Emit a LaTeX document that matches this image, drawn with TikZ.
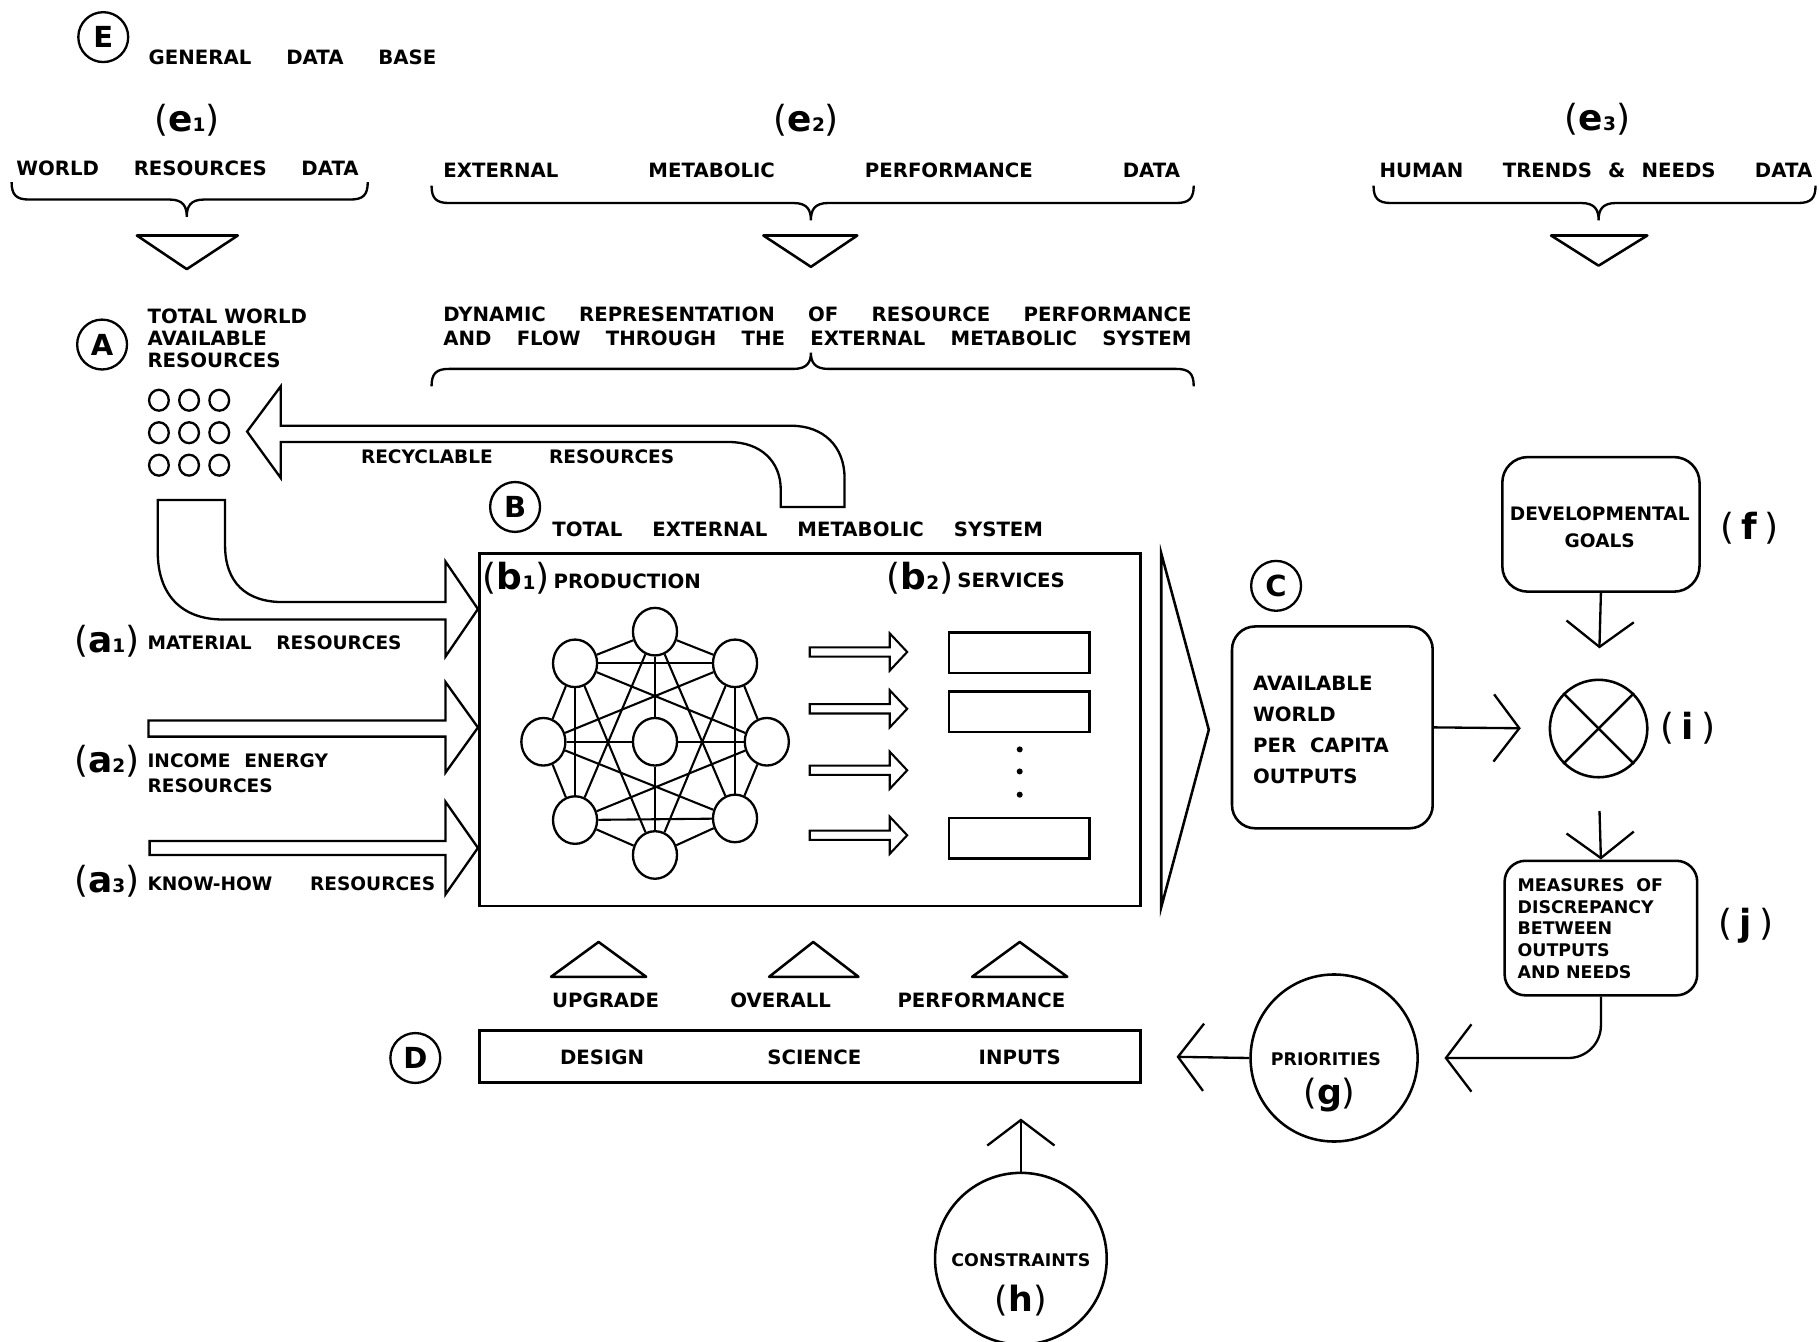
\documentclass[tikz,border=0pt]{standalone}
\usepackage{fontspec}
\setmainfont{DejaVu Sans}
\usetikzlibrary{arrows.meta,shapes.geometric}
\tikzset{
  lw/.style={line width=2.2pt},
  lbl/.style={inner sep=0pt, font=\bfseries\fontsize{17}{20}\selectfont},
  lbls/.style={inner sep=0pt, font=\bfseries\fontsize{16}{19}\selectfont},
  circlab/.style={circle, draw, line width=2pt, minimum size=43pt, inner sep=0pt, font=\bfseries\fontsize{25}{25}\selectfont},
  netnode/.style={ellipse, draw, line width=2pt, minimum width=38pt, minimum height=41pt, inner sep=0pt},
  netline/.style={line width=1.8pt},
  hollow/.style={line width=2pt, line join=miter},
  bracepath/.style={line width=2pt},
  conn/.style={line width=2pt, -{Straight Barb[length=22pt,width=58pt]}},
  rbox/.style={draw, line width=2.2pt, rounded corners=20pt, inner sep=0pt},
  plab/.style={inner sep=0pt},
}
\newcommand{\labsub}[2]{{\fontsize{31}{31}\selectfont(\textbf{#1}{\fontsize{16}{16}\selectfont\bfseries #2})}}
\newcommand{\labone}[1]{{\fontsize{31}{31}\selectfont(\hspace{6pt}\textbf{#1}\hspace{6pt})}}
\newcommand{\labcirc}[1]{{\fontsize{30}{30}\selectfont(\textbf{#1})}}
\begin{document}
\begin{tikzpicture}[x=1pt,y=-1pt]
\useasboundingbox (0,0) rectangle (1568,1156);
\fill[white] (0,0) rectangle (1568,1156);

% ---------- E : general data base ----------
\node[circlab] (E) at (89,32) {E};
\node[lbl, anchor=west] (gdb) at (128,49) {\makebox[248pt][s]{GENERAL\hfill DATA\hfill BASE}};

\node[plab] (e1) at (161,104) {\labsub{e}{1}};
\node[plab] (e2) at (695,104) {\labsub{e}{2}};
\node[plab] (e3) at (1377,103) {\labsub{e}{3}};

\node[lbl, anchor=west] (wrd) at (14,145) {\makebox[295pt][s]{WORLD\hfill RESOURCES\hfill DATA}};
\node[lbl, anchor=west] (empd) at (382,147) {\makebox[635pt][s]{EXTERNAL\hfill METABOLIC\hfill PERFORMANCE\hfill DATA}};
\node[lbl, anchor=west] (htnd) at (1189,147) {\makebox[373pt][s]{HUMAN\hfill TRENDS\hspace{14pt}\&\hspace{14pt}NEEDS\hfill DATA}};

% braces
\draw[bracepath] (10,157) .. controls (10,168) and (14,172) .. (25,172) -- (146,172) .. controls (158,172) and (161,178) .. (161,187) .. controls (161,178) and (164,172) .. (176,172) -- (302,172) .. controls (313,172) and (317,168) .. (317,157);
\draw[bracepath] (372,160) .. controls (372,171) and (376,175) .. (387,175) -- (684,175) .. controls (696,175) and (699,181) .. (699,190) .. controls (699,181) and (702,175) .. (714,175) -- (1014,175) .. controls (1025,175) and (1029,171) .. (1029,160);
\draw[bracepath] (1184,160) .. controls (1184,171) and (1188,175) .. (1199,175) -- (1363,175) .. controls (1375,175) and (1378,181) .. (1378,190) .. controls (1378,181) and (1381,175) .. (1393,175) -- (1550,175) .. controls (1561,175) and (1565,171) .. (1565,160);
\draw[bracepath] (372,333) .. controls (372,322) and (376,318) .. (387,318) -- (684,318) .. controls (696,318) and (699,312) .. (699,304) .. controls (699,312) and (702,318) .. (714,318) -- (1014,318) .. controls (1025,318) and (1029,322) .. (1029,333);

% down triangles
\draw[lw, line join=round] (118,203) -- (205,203) -- (161,232) -- cycle;
\draw[lw, line join=round] (658,203) -- (739,203) -- (699,230) -- cycle;
\draw[lw, line join=round] (1337,203) -- (1420,203) -- (1378,229) -- cycle;

% ---------- A ----------
\node[circlab] (A) at (88,297) {A};
\node[lbl, anchor=west, align=left, font=\bfseries\fontsize{17}{19}\selectfont] (twar) at (127,292) {TOTAL WORLD\\AVAILABLE\\RESOURCES};
\node[lbl, anchor=west, align=left, font=\bfseries\fontsize{17}{21}\selectfont] (dyn) at (382,281.5) {\makebox[645pt][s]{DYNAMIC\hfill REPRESENTATION\hfill OF\hfill RESOURCE\hfill PERFORMANCE}\\\makebox[645pt][s]{AND\hfill FLOW\hfill THROUGH\hfill THE\hfill EXTERNAL\hfill METABOLIC\hfill SYSTEM}};

\foreach \cx in {137,163,189} \foreach \cy in {345,373,401}
  \draw[line width=2pt] (\cx,\cy) ellipse [x radius=8.5pt, y radius=9pt];

% recyclable resources arrow
\draw[hollow] (242,333) -- (213,372) -- (242,412) -- (242,381) -- (628,381) .. controls (656,381) and (673,398) .. (673,422) -- (673,437) -- (728,437) -- (728,412) .. controls (728,385) and (710,367) .. (682,367) -- (242,367) -- cycle;
\node[lbls, anchor=west] (recy) at (311,394) {\makebox[270pt][s]{RECYCLABLE\hfill RESOURCES}};

% ---------- B ----------
\node[circlab] (B) at (444,437) {B};
\node[lbl, anchor=west] (tems) at (476,456) {\makebox[423pt][s]{TOTAL\hfill EXTERNAL\hfill METABOLIC\hfill SYSTEM}};

% input arrows
\draw[hollow] (136,431) -- (194,431) -- (194,470) .. controls (194,502) and (212,519) .. (244,519) -- (384,519) -- (384,484) -- (412,525) -- (384,566) -- (384,534) -- (192,534) .. controls (156,534) and (136,512) .. (136,476) -- cycle;
\draw[hollow] (128,621) -- (384,621) -- (384,588) -- (412,627) -- (384,666) -- (384,635) -- (128,635) -- cycle;
\draw[hollow] (129,725) -- (384,725) -- (384,691) -- (412,731) -- (384,771) -- (384,737) -- (129,737) -- cycle;

\node[plab] (a1) at (92,553) {\labsub{a}{1}};
\node[lbls, anchor=west] (matr) at (127,554) {\makebox[219pt][s]{MATERIAL\hfill RESOURCES}};
\node[plab] (a2) at (92,656) {\labsub{a}{2}};
\node[lbls, anchor=west, align=left, font=\bfseries\fontsize{16}{21}\selectfont] (iner) at (127,666.5) {INCOME\hspace{12pt}ENERGY\\RESOURCES};
\node[plab] (a3) at (92,760) {\labsub{a}{3}};
\node[lbls, anchor=west] (khr) at (127,762) {\makebox[248pt][s]{KNOW-HOW\hfill RESOURCES}};

% main box
\node[draw, line width=2.4pt, minimum width=570pt, minimum height=304pt, inner sep=0pt] (Bbox) at (698,629) {};
\draw[lw, line join=miter] (1001,477) -- (1042,629) -- (1001,782) -- cycle;

\node[plab] (b1) at (445,498) {\labsub{b}{1}};
\node[lbl, anchor=west] (prod) at (477,501) {PRODUCTION};
\node[plab] (b2) at (793,498) {\labsub{b}{2}};
\node[lbl, anchor=west] (serv) at (825,500) {SERVICES};

% network
\node[netnode] (nT) at (564.6,544.5) {};
\node[netnode] (nUL) at (495.7,571.8) {};
\node[netnode] (nUR) at (633.6,571.8) {};
\node[netnode] (nL) at (468.4,639.4) {};
\node[netnode] (nC) at (564.6,639.4) {};
\node[netnode] (nR) at (661,639.4) {};
\node[netnode] (nLL) at (495.7,706.9) {};
\node[netnode] (nLR) at (633.6,705.5) {};
\node[netnode] (nB) at (564.6,737) {};
\foreach \p/\q in {nT/nUL,nUL/nL,nL/nLL,nLL/nB,nB/nLR,nLR/nR,nR/nUR,nUR/nT,
  nUL/nUR,nLL/nLR,nUL/nLL,nUR/nLR,nL/nC,nC/nR,nT/nC,nC/nB,nT/nLL,nT/nLR,
  nB/nUL,nB/nUR,nL/nUR,nL/nLR,nR/nUL,nR/nLL}
  \draw[netline] (\p) -- (\q);

% services
\foreach \yc in {562,611,664,720}
  \draw[line width=1.8pt, line join=miter] (698,\yc-4) -- (767,\yc-4) -- (767,\yc-16) -- (782,\yc) -- (767,\yc+16) -- (767,\yc+4) -- (698,\yc+4) -- cycle;
\draw[lw] (818,545) rectangle (939,580);
\draw[lw] (818,596) rectangle (939,631);
\draw[lw] (818,705) rectangle (939,740);
\fill (879,646) circle (2.6pt);
\fill (879,665) circle (2.6pt);
\fill (879,685) circle (2.6pt);

% ---------- C ----------
\node[circlab] (Cl) at (1100,505) {C};
\node[rbox, minimum width=173pt, minimum height=174pt] (Cbox) at (1148.5,627) {};
\node[lbl, anchor=west, align=left, font=\bfseries\fontsize{17}{26.7}\selectfont] (ctext) at (1080,629) {AVAILABLE\\WORLD\\PER\hspace{12pt}CAPITA\\OUTPUTS};

% i comparator
\node[circle, draw, lw, minimum size=84pt, inner sep=0pt] (i) at (1378,628) {};
\draw[lw] (i.north west) -- (i.south east);
\draw[lw] (i.north east) -- (i.south west);
\node[plab] (il) at (1455,628) {\labone{i}};

% f
\node[rbox, rounded corners=22pt, minimum width=170pt, minimum height=116pt] (fbox) at (1380,452) {};
\node[lbl, align=center, font=\bfseries\fontsize{16}{23}\selectfont] (ftext) at (1379,454.5) {DEVELOPMENTAL\\GOALS};
\node[plab] (fl) at (1508,455) {\labone{f}};

% j
\node[rbox, rounded corners=18pt, minimum width=166pt, minimum height=116pt] (jbox) at (1380,800) {};
\node[anchor=west, align=left, inner sep=0pt, font=\bfseries\fontsize{15}{18.75}\selectfont] (jtext) at (1308,800.5) {MEASURES\hspace{10pt}OF\\DISCREPANCY\\BETWEEN\\OUTPUTS\\AND NEEDS};
\node[plab] (jl) at (1505,798) {\labone{j}};

% g
\node[circle, draw, lw, minimum size=144pt, inner sep=0pt] (g) at (1150,912) {};
\node[inner sep=0pt, font=\bfseries\fontsize{15}{15}\selectfont] (gtext) at (1143,913) {PRIORITIES};
\node[plab] (gl) at (1146,944) {\labcirc{g}};

% ---------- D ----------
\node[circlab] (Dl) at (358,912) {D};
\node[draw, line width=2.4pt, minimum width=570pt, minimum height=45pt, inner sep=0pt] (Dbox) at (698,910.5) {};
\node[lbl] (des) at (519,911) {DESIGN};
\node[lbl] (sci) at (702,911) {SCIENCE};
\node[lbl] (inp) at (879,911) {INPUTS};
\draw[lw, line join=round] (475,842) -- (516,812) -- (557,842) -- cycle;
\draw[lw, line join=round] (663,842) -- (701,812) -- (740,842) -- cycle;
\draw[lw, line join=round] (838,842) -- (879,812) -- (920,842) -- cycle;
\node[lbl] (upg) at (522,862) {UPGRADE};
\node[lbl] (ove) at (673,862) {OVERALL};
\node[lbl] (perf) at (846,862) {PERFORMANCE};

% h
\node[circle, draw, lw, minimum size=148pt, inner sep=0pt] (h) at (880,1085) {};
\node[inner sep=0pt, font=\bfseries\fontsize{15}{15}\selectfont] (htext) at (880,1086) {CONSTRAINTS};
\node[plab] (hl) at (880,1121) {\labcirc{h}};

% ---------- connectors ----------
\draw[conn, shorten >=24pt] (Cbox.east) -- (i.west);
\draw[conn, shorten >=26pt] (fbox.south) -- (i.north);
\draw[conn, shorten <=28pt] (i.south) -- (jbox.north);
\draw[conn, rounded corners=28pt, shorten >=22pt] (jbox.south) |- (g.east);
\draw[conn, shorten >=30pt] (g.west) -- (Dbox.east);
\draw[conn, shorten >=30pt] (h.north) -- (h.north |- Dbox.south);
\end{tikzpicture}
\end{document}
